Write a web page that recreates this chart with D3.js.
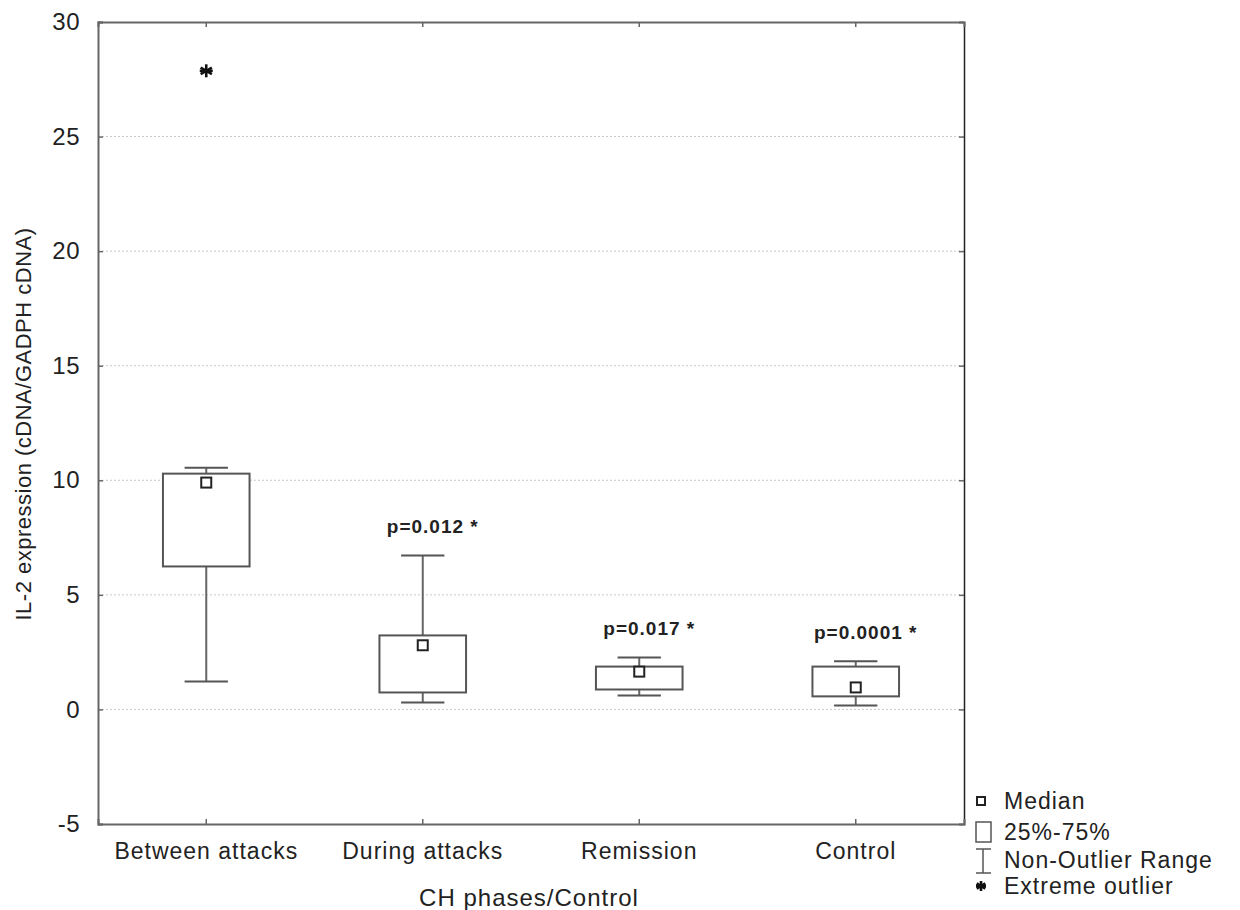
<!DOCTYPE html>
<html>
<head>
<meta charset="utf-8">
<script src="https://cdnjs.cloudflare.com/ajax/libs/d3/7.8.5/d3.min.js"></script>
<style>
  body { margin: 0; background: #fff; }
  text { font-family: "Liberation Sans", Arial, sans-serif; fill: #222; }
</style>
</head>
<body>
<div id="chart"></div>
<script>

// values
var categories = ["Between attacks", "During attacks", "Remission", "Control"];
var q1         = [6.24, 0.74, 0.87, 0.57];
var q3         = [10.29, 3.23, 1.87, 1.87];
var medians    = [9.9, 2.8, 1.65, 0.96];
var whiskLow   = [1.22, 0.3, 0.61, 0.17];
var whiskHigh  = [10.55, 6.72, 2.27, 2.1];
var outliers   = [[27.87], [], [], []];
var pLabels    = ["", "p=0.012 *", "p=0.017 *", "p=0.0001 *"];
var yTicks     = [-5, 0, 5, 10, 15, 20, 25, 30];
var legendItems = ["Median", "25%-75%", "Non-Outlier Range", "Extreme outlier"];

var W = 1240, H = 910;
var plot = {left: 98, right: 964, top: 22, bottom: 824};

var svg = d3.select("#chart").append("svg")
            .attr("width", W)
            .attr("height", H);

var XScale = d3.scaleBand()
               .domain(categories)
               .range([plot.left, plot.right]);

var YScale = d3.scaleLinear()
               .domain([-5, 30])
               .range([plot.bottom, plot.top]);

var boxW = XScale.bandwidth() * 0.4;
var capW = boxW / 2;
function cx(i) { return XScale(categories[i]) + XScale.bandwidth() / 2; }

// grid lines
svg.append("g").selectAll("line")
   .data(yTicks.filter(function(d) { return d > -5 && d < 30; }))
   .enter().append("line")
   .attr("x1", plot.left).attr("x2", plot.right)
   .attr("y1", function(d) { return YScale(d); })
   .attr("y2", function(d) { return YScale(d); })
   .attr("stroke", "#c8c8c8")
   .attr("stroke-width", 1)
   .attr("stroke-dasharray", "2,2");

// axes (ticks pointing inward)
var axisLeft = svg.append("g")
   .attr("transform", "translate(" + plot.left + ",0)")
   .call(d3.axisLeft(YScale).tickValues(yTicks).tickSize(-5).tickPadding(18)
           .tickFormat(function(d) { return String(d); }));

var axisRight = svg.append("g")
   .attr("transform", "translate(" + plot.right + ",0)")
   .call(d3.axisRight(YScale).tickValues(yTicks).tickSize(-5).tickFormat(""));

var axisBottom = svg.append("g")
   .attr("transform", "translate(0," + plot.bottom + ")")
   .call(d3.axisBottom(XScale).tickSize(-5).tickPadding(19));

var axisTop = svg.append("g")
   .attr("transform", "translate(0," + plot.top + ")")
   .call(d3.axisTop(XScale).tickSize(-5).tickFormat(""));

[axisLeft, axisRight, axisBottom, axisTop].forEach(function(a) {
  a.select(".domain").attr("stroke", "#666").attr("stroke-width", 2);
  a.selectAll(".tick line").attr("stroke", "#666").attr("stroke-width", 1.5);
  a.selectAll(".tick text").attr("fill", "#222");
});
axisRight.select(".domain").attr("stroke", "#222").attr("stroke-width", 1.5);
axisLeft.selectAll(".tick text").style("font-size", "24px").style("letter-spacing", "0.5px");
axisBottom.selectAll(".tick text").style("font-size", "23px").style("letter-spacing", "1px");

// boxes, whiskers, medians
var boxes = svg.append("g");
categories.forEach(function(c, i) {
  var x = cx(i);
  boxes.append("line")
       .attr("x1", x).attr("x2", x)
       .attr("y1", YScale(whiskLow[i])).attr("y2", YScale(whiskHigh[i]))
       .attr("stroke", "#666").attr("stroke-width", 2);
  [whiskLow[i], whiskHigh[i]].forEach(function(v) {
    boxes.append("line")
         .attr("x1", x - capW / 2).attr("x2", x + capW / 2)
         .attr("y1", YScale(v)).attr("y2", YScale(v))
         .attr("stroke", "#555").attr("stroke-width", 2);
  });
  boxes.append("rect")
       .attr("x", x - boxW / 2)
       .attr("y", YScale(q3[i]))
       .attr("width", boxW)
       .attr("height", YScale(q1[i]) - YScale(q3[i]))
       .attr("fill", "#fff")
       .attr("stroke", "#555").attr("stroke-width", 2);
  boxes.append("rect")
       .attr("x", x - 5).attr("y", YScale(medians[i]) - 5)
       .attr("width", 10).attr("height", 10)
       .attr("fill", "#fff")
       .attr("stroke", "#222").attr("stroke-width", 2);
  outliers[i].forEach(function(v) {
    drawStar(boxes, x, YScale(v), 6.5);
  });
  if (pLabels[i]) {
    boxes.append("text")
         .attr("x", x + 10)
         .attr("y", YScale(whiskHigh[i]) - 22)
         .attr("text-anchor", "middle")
         .style("font-size", "19px")
         .style("font-weight", "bold")
         .style("letter-spacing", "1px")
         .attr("fill", "#333")
         .text(pLabels[i]);
  }
});

function drawStar(g, x, y, r) {
  var s = g.append("g").attr("transform", "translate(" + x + "," + y + ")");
  [0, 60, 120].forEach(function(a) {
    var rad = a * Math.PI / 180;
    s.append("line")
     .attr("x1", -r * Math.sin(rad)).attr("y1", -r * Math.cos(rad))
     .attr("x2",  r * Math.sin(rad)).attr("y2",  r * Math.cos(rad))
     .attr("stroke", "#111").attr("stroke-width", 2.6);
  });
  s.append("line").attr("x1", -r).attr("x2", r).attr("y1", 0).attr("y2", 0)
   .attr("stroke", "#111").attr("stroke-width", 2.6);
}

// axis titles
svg.append("text")
   .attr("x", (plot.left + plot.right) / 2 - 2)
   .attr("y", 906)
   .attr("text-anchor", "middle")
   .style("font-size", "24px")
   .style("letter-spacing", "1px")
   .text("CH phases/Control");

svg.append("text")
   .attr("transform", "translate(31,424) rotate(-90)")
   .attr("text-anchor", "middle")
   .style("font-size", "22px")
   .style("letter-spacing", "0.5px")
   .text("IL-2 expression (cDNA/GADPH cDNA)");

// legend
var legendY = [801, 832, 860, 886];
var legend = svg.append("g");
legendItems.forEach(function(d, i) {
  legend.append("text")
        .attr("x", 1004).attr("y", legendY[i] + 8)
        .style("font-size", "23px")
        .style("letter-spacing", "1px")
        .text(d);
});
legend.append("rect").attr("x", 977).attr("y", legendY[0] - 4).attr("width", 8).attr("height", 8)
      .attr("fill", "#fff").attr("stroke", "#222").attr("stroke-width", 2);
legend.append("rect").attr("x", 976).attr("y", legendY[1] - 10).attr("width", 15).attr("height", 20)
      .attr("fill", "#fff").attr("stroke", "#555").attr("stroke-width", 1.5);
legend.append("line").attr("x1", 983).attr("x2", 983).attr("y1", legendY[2] - 11).attr("y2", legendY[2] + 13)
      .attr("stroke", "#555").attr("stroke-width", 1.5);
legend.append("line").attr("x1", 976).attr("x2", 991).attr("y1", legendY[2] - 11).attr("y2", legendY[2] - 11)
      .attr("stroke", "#555").attr("stroke-width", 1.5);
legend.append("line").attr("x1", 976).attr("x2", 991).attr("y1", legendY[2] + 13).attr("y2", legendY[2] + 13)
      .attr("stroke", "#555").attr("stroke-width", 1.5);
drawStar(legend, 981, legendY[3], 5);

</script>
</body>
</html>
